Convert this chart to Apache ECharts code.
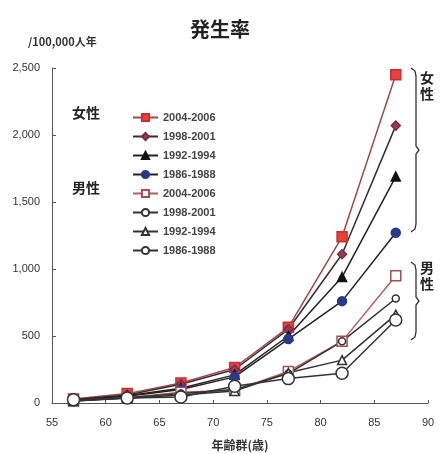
<!DOCTYPE html>
<html><head><meta charset="utf-8">
<script src="https://cdn.jsdelivr.net/npm/echarts@6/dist/echarts.min.js"></script>
<style>html,body{margin:0;padding:0;background:#fff}#c{width:440px;height:454px}</style>
</head><body><div id="c"></div>
<script>
const ages = [57, 62, 67, 72, 77, 82, 87];
const f2004 = [30, 70, 150, 265, 565, 1240, 2450];
const f1998 = [25, 60, 140, 250, 550, 1110, 2070];
const f1992 = [25, 55, 110, 210, 500, 940, 1690];
const f1986 = [20, 50, 100, 195, 477, 760, 1270];
const m2004 = [15, 40, 80, 95, 235, 460, 950];
const m1998 = [15, 40, 70, 100, 220, 460, 780];
const m1992 = [15, 35, 60, 90, 225, 320, 660];
const m1986 = [25, 37, 45, 125, 182, 222, 620];
const yTicks = [0, 500, 1000, 1500, 2000, 2500];
const xTicks = [55, 60, 65, 70, 75, 80, 85, 90];

const chart = echarts.init(document.getElementById('c'));
function mk(name, data, symbol, size, lineColor, fill, border) {
  return {
    name, type: 'line', data: ages.map((a, i) => [a, data[i]]),
    symbol, symbolSize: size, showSymbol: true,
    lineStyle: { color: lineColor, width: 1.5 },
    itemStyle: { color: fill, borderColor: border, borderWidth: 1.5 },
    emphasis: { disabled: true }
  };
}
const series = [
  mk('F2004-2006', f2004, 'rect', 10, '#a04848', '#e8413c', '#c83030'),
  mk('F1998-2001', f1998, 'diamond', 9, '#3a2a30', '#9a3a5a', '#7a2a4a'),
  mk('F1992-1994', f1992, 'triangle', 9, '#222', '#111', '#111'),
  mk('F1986-1988', f1986, 'circle', 9, '#222', '#2a3a8a', '#2a3a8a'),
  mk('M2004-2006', m2004, 'rect', 10, '#b06060', '#fff', '#a05050'),
  mk('M1998-2001', m1998, 'circle', 7, '#333', '#fff', '#333'),
  mk('M1992-1994', m1992, 'triangle', 9, '#333', '#fff', '#333'),
  mk('M1986-1988', m1986, 'circle', 12, '#333', '#fff', '#333')
];
function bracket(x, y1, y2) {
  return {
    type: 'polyline', silent: true,
    shape: { points: [[x, y1], [x + 4, y1 + 3], [x + 5, y1 + 8], [x + 5, (y1 + y2) / 2 - 4], [x + 8, (y1 + y2) / 2], [x + 5, (y1 + y2) / 2 + 4], [x + 5, y2 - 8], [x + 4, y2 - 3], [x, y2]] },
    style: { stroke: '#333', lineWidth: 1.3, fill: null }
  };
}
chart.setOption({
  backgroundColor: '#fff',
  animation: false,
  title: {
    text: '発生率', left: 'center', top: 14,
    textStyle: { fontSize: 20, fontWeight: 'bold', color: '#222', fontFamily: 'Noto Sans CJK JP' }
  },
  grid: { left: 52, right: 12, top: 68, bottom: 51, containLabel: false, outerBoundsMode: 'none' },
  legend: {
    orient: 'vertical', left: 127, top: 106, itemGap: 6, itemWidth: 25, itemHeight: 9,
    data: series.map(s => s.name),
    formatter: n => n.slice(1),
    textStyle: { fontSize: 11, fontWeight: 'bold', color: '#444', fontFamily: 'Liberation Sans', lineHeight: 13 },
    selectedMode: false
  },
  xAxis: {
    type: 'value', min: 55, max: 90, interval: 5,
    name: '年齢群(歳)', nameLocation: 'middle', nameGap: 36,
    nameTextStyle: { fontSize: 12, fontWeight: 'bold', color: '#333', fontFamily: 'Noto Sans CJK JP' },
    axisLine: { lineStyle: { color: '#555' } },
    axisTick: { inside: true, length: 3, lineStyle: { color: '#555' } },
    axisLabel: { fontSize: 11, color: '#333', fontFamily: 'Liberation Sans', margin: 14,
      formatter: v => xTicks.includes(v) ? String(v) : '' },
    splitLine: { show: false }
  },
  yAxis: {
    type: 'value', min: 0, max: 2500, interval: 500,
    axisLine: { show: true, lineStyle: { color: '#555' } },
    axisTick: { show: true, inside: true, length: 4, lineStyle: { color: '#555' } },
    axisLabel: { fontSize: 11, color: '#333', fontFamily: 'Liberation Sans', margin: 12,
      formatter: v => yTicks.includes(v) ? v.toLocaleString('en-US') : '' },
    splitLine: { show: false }
  },
  graphic: [
    { type: 'text', left: 28, top: 36, silent: true,
      style: { text: '/100,000人年', fontSize: 11, fontWeight: 'bold', fill: '#333', fontFamily: 'Noto Sans CJK JP' } },
    { type: 'text', left: 72, top: 106, silent: true,
      style: { text: '女性', fontSize: 14, fontWeight: 'bold', fill: '#222', fontFamily: 'Noto Sans CJK JP' } },
    { type: 'text', left: 72, top: 181, silent: true,
      style: { text: '男性', fontSize: 14, fontWeight: 'bold', fill: '#222', fontFamily: 'Noto Sans CJK JP' } },
    bracket(411, 68, 232),
    bracket(411, 262, 340),
    { type: 'text', left: 420, top: 70, silent: true,
      style: { text: '女\n性', fontSize: 14, fontWeight: 'bold', fill: '#222', lineHeight: 16, fontFamily: 'Noto Sans CJK JP' } },
    { type: 'text', left: 420, top: 260, silent: true,
      style: { text: '男\n性', fontSize: 14, fontWeight: 'bold', fill: '#222', lineHeight: 16, fontFamily: 'Noto Sans CJK JP' } }
  ],
  series
});
</script></body></html>
